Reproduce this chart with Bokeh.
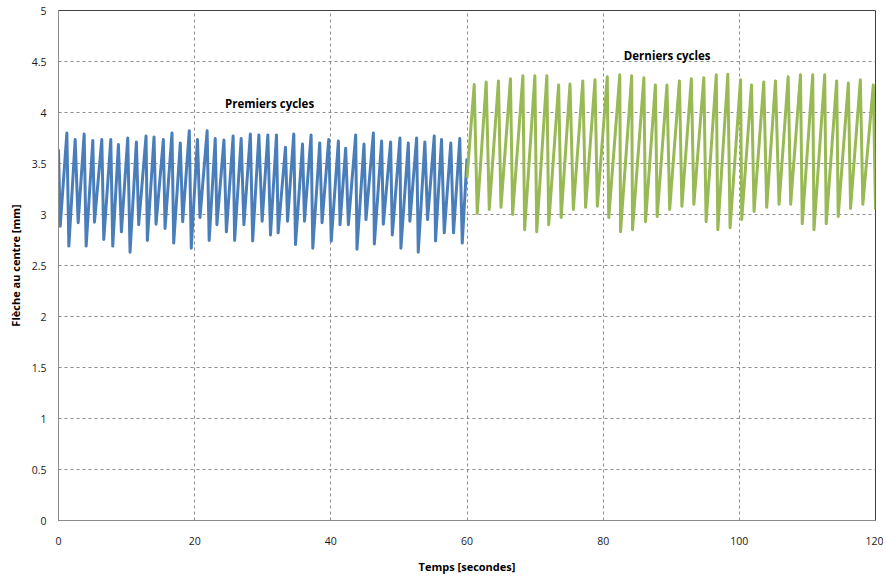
from bokeh.plotting import figure
from bokeh.models import FixedTicker, CustomJSTickFormatter, Label
from bokeh.embed import file_html
from bokeh.resources import INLINE

# ---- data (time in s, deflection in mm) ----
blue_t = [0.00, 0.25, 1.23, 1.52, 2.45, 2.89, 3.77, 4.06, 5.04, 5.28, 6.36, 6.65,
          7.68, 7.97, 8.80, 9.24, 10.17, 10.51, 11.44, 11.78, 12.86, 13.05, 14.03, 14.33,
          15.40, 15.65, 16.67, 16.92, 17.89, 18.24, 19.21, 19.50, 20.41, 20.78, 21.83, 22.13,
          23.02, 23.27, 24.30, 24.66, 25.65, 25.87, 26.83, 27.23, 28.18, 28.52, 29.43, 29.91,
          30.75, 31.14, 32.02, 32.26, 33.34, 33.64, 34.56, 34.81, 35.84, 36.13, 37.10, 37.35,
          38.37, 38.71, 39.69, 40.06, 41.11, 41.35, 42.18, 42.58, 43.65, 43.84, 44.87, 45.16,
          46.25, 46.39, 47.46, 47.71, 48.78, 49.03, 50.15, 50.29, 51.38, 51.61, 52.60, 52.84,
          53.81, 54.21, 55.19, 55.38, 56.26, 56.66, 57.62, 58.02, 58.94, 59.30, 60.00]
blue_v = [3.64, 2.885, 3.80, 2.69, 3.735, 2.92, 3.79, 2.69, 3.725, 2.925, 3.735, 2.755,
          3.735, 2.69, 3.686, 2.83, 3.75, 2.63, 3.71, 2.90, 3.77, 2.745, 3.76, 2.905,
          3.735, 2.863, 3.80, 2.72, 3.70, 2.93, 3.82, 2.67, 3.735, 2.97, 3.82, 2.745,
          3.745, 2.90, 3.73, 2.83, 3.77, 2.745, 3.745, 2.90, 3.79, 2.74, 3.78, 2.935,
          3.78, 2.80, 3.78, 2.82, 3.66, 2.935, 3.79, 2.705, 3.69, 2.935, 3.78, 2.67,
          3.70, 2.92, 3.735, 2.74, 3.72, 2.90, 3.65, 2.90, 3.78, 2.66, 3.69, 2.95,
          3.80, 2.71, 3.72, 2.905, 3.71, 2.80, 3.75, 2.67, 3.70, 2.935, 3.75, 2.63,
          3.71, 2.95, 3.77, 2.74, 3.735, 2.82, 3.70, 2.82, 3.745, 2.72, 3.55]

green_start = (60.0, 3.36)
green_end = (120.0, 3.05)
green_peak_t = [61.06, 62.82, 64.62, 66.38, 68.21, 69.97, 71.73, 73.46, 75.13, 77.01,
                78.80, 80.60, 82.44, 84.19, 85.98, 87.67, 89.37, 91.20, 92.95, 94.78,
                96.61, 98.31, 100.18, 101.79, 103.59, 105.31, 107.17, 108.98, 110.78, 112.54,
                114.30, 116.01, 117.77, 119.68]
green_peak_v = [4.275, 4.30, 4.31, 4.33, 4.36, 4.36, 4.36, 4.27, 4.28, 4.31,
                4.32, 4.35, 4.37, 4.36, 4.34, 4.27, 4.27, 4.31, 4.33, 4.34,
                4.37, 4.375, 4.32, 4.27, 4.30, 4.31, 4.35, 4.37, 4.37, 4.37,
                4.31, 4.29, 4.32, 4.27]
green_trough_t = [61.50, 63.27, 64.99, 66.70, 68.46, 70.24, 72.00, 73.83, 75.62, 77.42,
                  79.14, 80.82, 82.55, 84.31, 86.22, 87.93, 89.77, 91.56, 93.32, 95.12,
                  96.84, 98.64, 100.35, 102.16, 104.02, 105.83, 107.54, 109.24, 110.96, 112.76,
                  114.52, 116.34, 118.14]
green_trough_v = [3.01, 3.05, 3.07, 3.00, 2.85, 2.83, 2.90, 2.97, 3.05, 3.07,
                  3.08, 2.97, 2.83, 2.85, 2.93, 2.98, 3.05, 3.08, 3.10, 2.93,
                  2.85, 2.87, 2.95, 3.03, 3.07, 3.10, 3.10, 2.91, 2.85, 2.91,
                  2.98, 3.06, 3.10]

y_ticks = [0, 0.5, 1, 1.5, 2, 2.5, 3, 3.5, 4, 4.5, 5]
x_ticks = [0, 20, 40, 60, 80, 100, 120]

# interleave green peaks and troughs
green_t = [green_start[0]]
green_v = [green_start[1]]
for i in range(len(green_peak_t)):
    green_t.append(green_peak_t[i]); green_v.append(green_peak_v[i])
    if i < len(green_trough_t):
        green_t.append(green_trough_t[i]); green_v.append(green_trough_v[i])
green_t.append(green_end[0]); green_v.append(green_end[1])

FONT = "Open Sans"

p = figure(frame_width=817, frame_height=510, x_range=(0, 120), y_range=(0, 5),
           output_backend="svg", toolbar_location=None,
           min_border_left=58, min_border_top=10, min_border_right=8, min_border_bottom=40)
p.background_fill_color = "white"
p.border_fill_color = "white"
p.outline_line_color = "#404040"
p.outline_line_width = 1

for ax in (p.xaxis[0], p.yaxis[0]):
    ax.axis_line_color = "#8c8c8c"
    ax.major_tick_line_color = None
    ax.minor_tick_line_color = None
    ax.major_tick_out = 0
    ax.major_tick_in = 0
    ax.minor_tick_out = 0
    ax.minor_tick_in = 0
    ax.major_label_text_font = FONT
    ax.major_label_text_font_size = "10.5px"
    ax.major_label_text_color = "#1a1a1a"
    ax.axis_label_text_font = FONT
    ax.axis_label_text_font_size = "11px"
    ax.axis_label_text_font_style = "bold"
    ax.axis_label_text_color = "#000000"

p.xaxis.ticker = FixedTicker(ticks=x_ticks)
p.yaxis.ticker = FixedTicker(ticks=y_ticks)
p.yaxis.formatter = CustomJSTickFormatter(code="return tick.toString();")
p.xaxis.formatter = CustomJSTickFormatter(code="return tick.toString();")
p.xaxis.axis_label = "Temps [secondes]"
p.yaxis.axis_label = "Flèche au centre [mm]"
p.xaxis.major_label_standoff = 16
p.yaxis.major_label_standoff = 12
p.xaxis.axis_label_standoff = 11
p.yaxis.axis_label_standoff = 6

p.xgrid.ticker = FixedTicker(ticks=x_ticks)
p.ygrid.ticker = FixedTicker(ticks=y_ticks)
for g in (p.xgrid[0], p.ygrid[0]):
    g.grid_line_color = "#8c8c8c"
    g.grid_line_dash = "3 3"
    g.grid_line_width = 1

p.line(blue_t, blue_v, line_color="#4a7ebb", line_width=3, line_join="round")
p.line(green_t, green_v, line_color="#98b954", line_width=3, line_join="round")

p.add_layout(Label(x=31.0, y=4.09, text="Premiers cycles", text_align="center",
                   text_baseline="middle", text_font=FONT, text_font_size="11.5px",
                   text_font_style="bold", text_color="#000000"))
p.add_layout(Label(x=89.4, y=4.56, text="Derniers cycles", text_align="center",
                   text_baseline="middle", text_font=FONT, text_font_size="11.5px",
                   text_font_style="bold", text_color="#000000"))

open("out.html", "w").write(file_html(p, INLINE))
